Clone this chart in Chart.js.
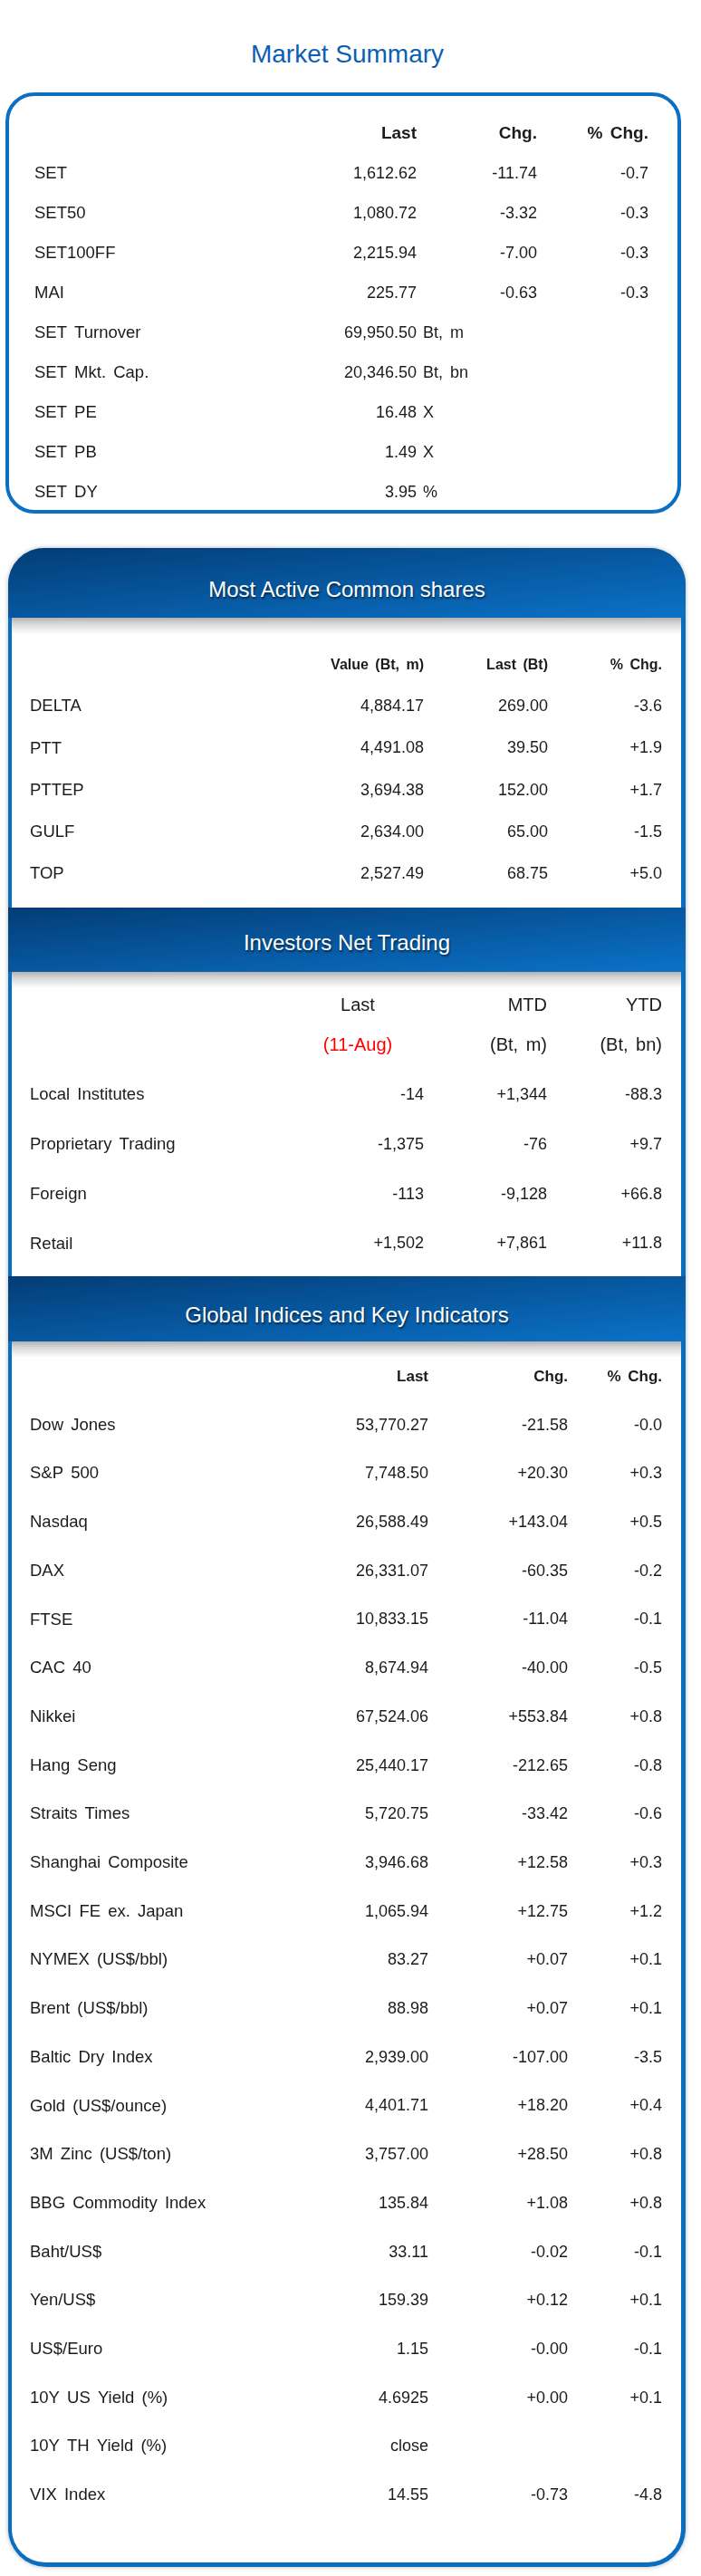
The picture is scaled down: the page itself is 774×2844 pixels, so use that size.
<!DOCTYPE html>
<html>
<head>
<meta charset="utf-8">
<script src="https://cdn.jsdelivr.net/npm/chart.js@4.4.0/dist/chart.umd.min.js"></script>
<style>
  html, body { margin: 0; padding: 0; background: #fff; }
  #page { position: relative; width: 774px; height: 2844px; overflow: hidden;
          font-family: 'Liberation Sans', Arial, Helvetica, sans-serif; }
  #page > * { position: absolute; }
  .title { left: 0; width: 767px; top: 44px; height: 32px; line-height: 32px;
           text-align: center; font-size: 28px; color: #0b5fb3; }
  .box { left: 6px; top: 102px; width: 746px; height: 465px; box-sizing: border-box;
         border: 4px solid #0b6fc2; border-radius: 32px; }
  .panel { left: 9px; top: 605px; width: 748px; height: 2229px; background: #0b6dc0;
           border-radius: 40px 40px 42px 42px; box-shadow: 0 0 5px rgba(0,0,0,.3); }
  .white { left: 13px; width: 739px; background: #fff; }
  .band { left: 9px; width: 748px;
          background: linear-gradient(to bottom right, #033d76 0%, #0b72c8 100%); }
  .shade { left: 13px; width: 739px; height: 18px;
           background: linear-gradient(to bottom, rgba(0,0,0,.30) 0%, rgba(0,0,0,.16) 35%, rgba(0,0,0,0) 100%); }
  .bandTitle { left: 9px; width: 748px; height: 28px; line-height: 28px; text-align: center;
               font-size: 24px; color: #fff; text-shadow: 1px 2px 2px rgba(0,0,0,.55); }
  canvas { left: 0; }
</style>
</head>
<body>
<div id="page">
  <div class="title">Market Summary</div>
  <div class="box"></div>

  <div class="panel"></div>
  <div class="white" style="top:682px;height:320px"></div>
  <div class="white" style="top:1073px;height:336px"></div>
  <div class="white" style="top:1481px;height:1348px;border-radius:0 0 37px 37px"></div>
  <div class="band" style="top:605px;height:77px;border-radius:40px 40px 0 0"></div>
  <div class="band" style="top:1002px;height:71px"></div>
  <div class="band" style="top:1409px;height:72px"></div>
  <div class="shade" style="top:682px"></div>
  <div class="shade" style="top:1073px"></div>
  <div class="shade" style="top:1481px"></div>
  <div class="bandTitle" style="top:637px">Most Active Common shares</div>
  <div class="bandTitle" style="top:1027px">Investors Net Trading</div>
  <div class="bandTitle" style="top:1438px">Global Indices and Key Indicators</div>

  <canvas id="summaryChart" width="774" height="462" style="top:115px"></canvas>
  <canvas id="activeChart" width="774" height="299" style="top:700px"></canvas>
  <canvas id="investorChart" width="774" height="335" style="top:1077px"></canvas>
  <canvas id="globalChart" width="774" height="1311" style="top:1482px"></canvas>
</div>

<script>
// Market Summary
var summaryNames = ["SET", "SET50", "SET100FF", "MAI", "SET Turnover", "SET Mkt. Cap.", "SET PE", "SET PB", "SET DY"];
var summaryHeaders = ["Last", "Chg.", "% Chg."];
var summaryLast = [1612.62, 1080.72, 2215.94, 225.77, 69950.50, 20346.50, 16.48, 1.49, 3.95];
var summaryUnits = ["", "", "", "", "Bt, m", "Bt, bn", "X", "X", "%"];
var summaryChg = [-11.74, -3.32, -7.00, -0.63, null, null, null, null, null];
var summaryPct = [-0.7, -0.3, -0.3, -0.3, null, null, null, null, null];

// Most Active Common shares
var activeNames = ["DELTA", "PTT", "PTTEP", "GULF", "TOP"];
var activeHeaders = ["Value (Bt, m)", "Last (Bt)", "% Chg."];
var activeValue = [4884.17, 4491.08, 3694.38, 2634.00, 2527.49];
var activeLast = [269.00, 39.50, 152.00, 65.00, 68.75];
var activePct = [-3.6, 1.9, 1.7, -1.5, 5.0];

// Investors Net Trading
var investorNames = ["Local Institutes", "Proprietary Trading", "Foreign", "Retail"];
var investorHeaders = ["Last", "MTD", "YTD"];
var investorSubHeaders = ["(11-Aug)", "(Bt, m)", "(Bt, bn)"];
var investorLast = [-14, -1375, -113, 1502];
var investorMtd = [1344, -76, -9128, 7861];
var investorYtd = [-88.3, 9.7, 66.8, 11.8];

// Global Indices and Key Indicators
var globalNames = ["Dow Jones", "S&P 500", "Nasdaq", "DAX", "FTSE", "CAC 40", "Nikkei", "Hang Seng",
  "Straits Times", "Shanghai Composite", "MSCI FE ex. Japan", "NYMEX (US$/bbl)", "Brent (US$/bbl)",
  "Baltic Dry Index", "Gold (US$/ounce)", "3M Zinc (US$/ton)", "BBG Commodity Index", "Baht/US$",
  "Yen/US$", "US$/Euro", "10Y US Yield (%)", "10Y TH Yield (%)", "VIX Index"];
var globalHeaders = ["Last", "Chg.", "% Chg."];
var globalLast = [53770.27, 7748.50, 26588.49, 26331.07, 10833.15, 8674.94, 67524.06, 25440.17,
  5720.75, 3946.68, 1065.94, 83.27, 88.98, 2939.00, 4401.71, 3757.00, 135.84, 33.11,
  159.39, 1.15, 4.6925, "close", 14.55];
var globalChg = [-21.58, 20.30, 143.04, -60.35, -11.04, -40.00, 553.84, -212.65,
  -33.42, 12.58, 12.75, 0.07, 0.07, -107.00, 18.20, 28.50, 1.08, -0.02,
  0.12, -0, 0, null, -0.73];
var globalPct = [-0, 0.3, 0.5, -0.2, -0.1, -0.5, 0.8, -0.8,
  -0.6, 0.3, 1.2, 0.1, 0.1, -3.5, 0.4, 0.8, 0.8, -0.1,
  0.1, -0.1, 0.1, null, -4.8];

var FONT = "'Liberation Sans', Arial, Helvetica, sans-serif";
var INK = "#1b1b1b";
var PAGE_W = 774;

function fmt(v, dec, signed) {
  if (v === null || v === undefined) return null;
  if (typeof v === "string") return v;
  var s = String(Math.abs(v));
  var d = Math.max(dec, s.indexOf(".") >= 0 ? s.split(".")[1].length : 0);
  var t = Math.abs(v).toLocaleString("en-US", { minimumFractionDigits: d, maximumFractionDigits: d });
  if (v < 0 || Object.is(v, -0)) return "-" + t;
  return signed ? "+" + t : t;
}

// draws the text of every cell at the point the scales put it
var cellText = {
  id: "cellText",
  beforeDraw: function (chart) {
    chart.ctx.wordSpacing = "3px";
  },
  afterDatasetsDraw: function (chart) {
    var ctx = chart.ctx;
    ctx.save();
    ctx.textBaseline = "middle";
    chart.data.datasets.forEach(function (ds, di) {
      chart.getDatasetMeta(di).data.forEach(function (pt, i) {
        var cell = ds.data[i];
        if (cell.text == null) return;
        var y = pt.y + (ds.dy || 0);
        ctx.font = ds.font;
        ctx.fillStyle = cell.color || INK;
        ctx.textAlign = cell.align || "right";
        ctx.fillText(cell.text, pt.x, y);
        if (cell.unit) {
          ctx.textAlign = "left";
          ctx.fillText(cell.unit, pt.x + 7, y);
        }
      });
    });
    ctx.restore();
  }
};

function tableChart(id, names, columns, headerSets, lay) {
  var labels = [""].concat(names);
  var datasets = [];
  headerSets.forEach(function (h) {
    datasets.push({
      font: h.font, dy: h.dy || 0,
      data: h.texts.map(function (t, ci) {
        return { x: (h.x || lay.colX)[ci], y: "", text: t,
                 color: h.colors ? h.colors[ci] : null, align: h.align ? h.align[ci] : "right" };
      })
    });
  });
  columns.forEach(function (col, ci) {
    datasets.push({
      font: "18px " + FONT,
      data: names.map(function (n, ri) {
        return { x: lay.colX[ci], y: n, text: fmt(col.values[ri], col.dec, col.signed),
                 unit: col.units ? col.units[ri] : null };
      })
    });
  });
  return new Chart(document.getElementById(id), {
    type: "scatter",
    data: { datasets: datasets },
    options: {
      responsive: false,
      animation: false,
      events: [],
      layout: { padding: { left: lay.labelX, top: lay.padTop || 0, right: 0, bottom: 0 } },
      elements: { point: { radius: 0, hoverRadius: 0 } },
      plugins: { legend: { display: false }, tooltip: { enabled: false } },
      scales: {
        x: { type: "linear", display: false, min: lay.labelX, max: PAGE_W },
        y: {
          type: "category",
          labels: labels,
          offset: true,
          grid: { display: false, drawTicks: false },
          border: { display: false },
          ticks: { mirror: true, crossAlign: "near", padding: 0, autoSkip: false, color: INK,
                   font: { family: FONT, size: 18.5 } },
          afterFit: function (axis) { axis.width = 0; }
        }
      }
    },
    plugins: [cellText]
  });
}

tableChart("summaryChart", summaryNames, [
  { values: summaryLast, dec: 2, signed: false, units: summaryUnits },
  { values: summaryChg, dec: 2, signed: true },
  { values: summaryPct, dec: 1, signed: true }
], [
  { texts: summaryHeaders, font: "bold 19px " + FONT }
], { labelX: 38, colX: [460, 593, 716] });

tableChart("activeChart", activeNames, [
  { values: activeValue, dec: 2, signed: false },
  { values: activeLast, dec: 2, signed: false },
  { values: activePct, dec: 1, signed: true }
], [
  { texts: activeHeaders, font: "bold 16px " + FONT }
], { labelX: 33, colX: [468, 605, 731] });

tableChart("investorChart", investorNames, [
  { values: investorLast, dec: 0, signed: true },
  { values: investorMtd, dec: 0, signed: true },
  { values: investorYtd, dec: 1, signed: true }
], [
  { texts: investorHeaders, font: "20px " + FONT, dy: -44,
    x: [395, 604, 731], align: ["center", "right", "right"] },
  { texts: investorSubHeaders, font: "20px " + FONT, colors: ["#ff0000", null, null],
    x: [395, 604, 731], align: ["center", "right", "right"] }
], { labelX: 33, padTop: 50, colX: [468, 604, 731] });

tableChart("globalChart", globalNames, [
  { values: globalLast, dec: 2, signed: false },
  { values: globalChg, dec: 2, signed: true },
  { values: globalPct, dec: 1, signed: true }
], [
  { texts: globalHeaders, font: "bold 17px " + FONT }
], { labelX: 33, colX: [473, 627, 731] });
</script>
</body>
</html>
